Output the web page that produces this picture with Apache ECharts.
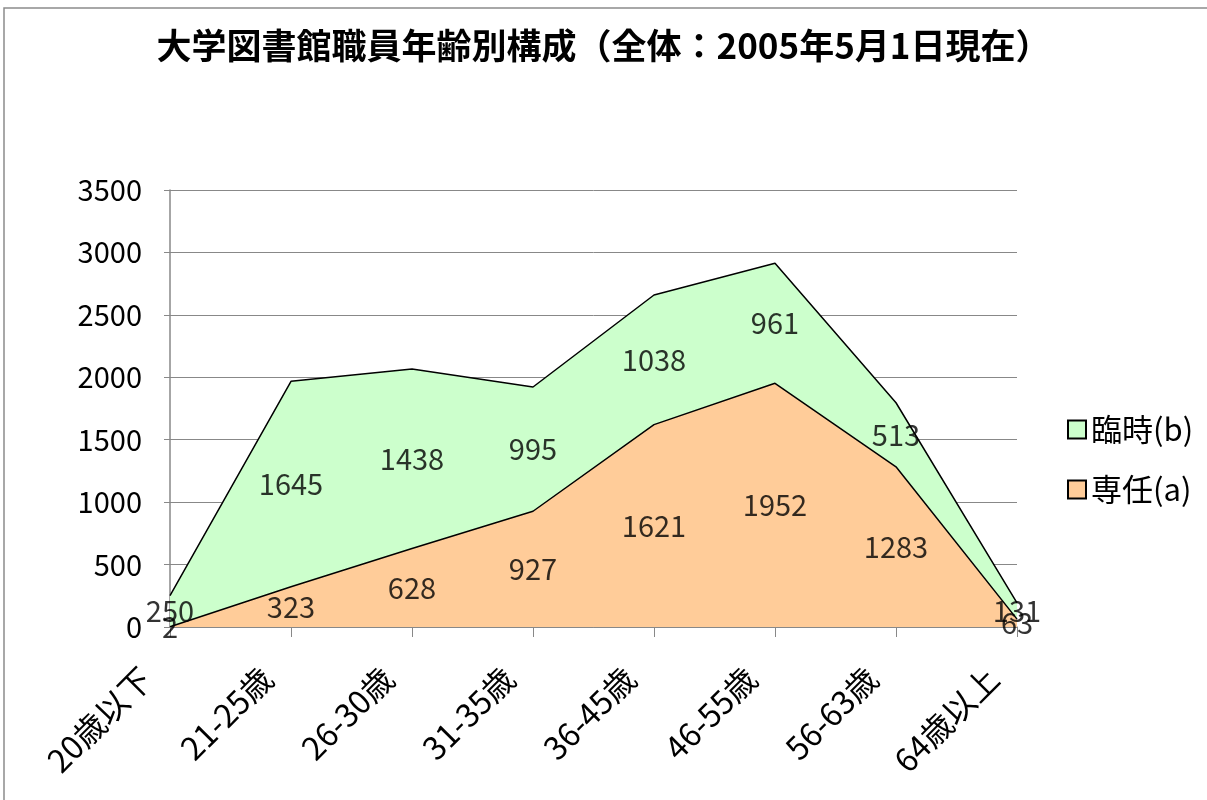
<!DOCTYPE html>
<html>
<head>
<meta charset="utf-8">
<script src="https://cdn.jsdelivr.net/npm/echarts@6/dist/echarts.min.js"></script>
<style>
  html, body { margin: 0; padding: 0; background: #fff; }
  #chart { width: 1207px; height: 800px; }
</style>
</head>
<body>
<div id="chart"></div>
<script>
// 年齢区分
const categories = ['20歳以下', '21-25歳', '26-30歳', '31-35歳', '36-45歳', '46-55歳', '56-63歳', '64歳以上'];
// 専任(a)
const fullTime = [2, 323, 628, 927, 1621, 1952, 1283, 63];
// 臨時(b)
const temporary = [250, 1645, 1438, 995, 1038, 961, 513, 131];
const yTicks = [0, 500, 1000, 1500, 2000, 2500, 3000, 3500];

const FONT = '"Noto Sans CJK JP", "Noto Sans", sans-serif';
const chart = echarts.init(document.getElementById('chart'));

// labels sit in the middle of each band
const midA = fullTime.map((v, i) => ({ value: [i, v / 2], label: { formatter: String(v) } }));
const midB = temporary.map((v, i) => ({ value: [i, fullTime[i] + v / 2], label: { formatter: String(v) } }));

const labelStyle = { show: true, position: 'inside', color: '#000', fontSize: 29, fontFamily: FONT };

const option = {
  animation: false,
  backgroundColor: '#fff',
  graphic: [{
    type: 'rect', shape: { x: 4, y: 8, width: 1300, height: 900 },
    style: { fill: 'none', stroke: '#8c8c8c', lineWidth: 1.5 }, silent: true
  }],
  title: {
    text: '大学図書館職員年齢別構成（全体：2005年5月1日現在）',
    left: 'center', top: 23,
    textStyle: { fontSize: 35, fontWeight: 'bold', color: '#000', fontFamily: FONT }
  },
  legend: {
    data: ['臨時(b)', '専任(a)'],
    orient: 'vertical',
    left: 1062, top: 409,
    itemGap: 29,
    itemWidth: 18, itemHeight: 18,
    icon: 'rect',
    textStyle: { fontSize: 31, color: '#000', fontFamily: FONT }
  },
  grid: { left: 170, right: 190, top: 190, bottom: 173 },
  xAxis: {
    type: 'category',
    data: categories,
    boundaryGap: false,
    axisLine: { lineStyle: { color: '#888', width: 1.5 } },
    axisTick: { show: true, length: 10, lineStyle: { color: '#888' } },
    axisLabel: {
      rotate: 45, margin: 22, fontSize: 32, color: '#000', fontFamily: FONT,
      interval: 0, padding: [0, 34, 0, 0]
    },
    splitLine: { show: false }
  },
  yAxis: {
    type: 'value',
    min: yTicks[0], max: yTicks[yTicks.length - 1], interval: 500,
    axisLine: { show: true, lineStyle: { color: '#888', width: 1.5 } },
    axisTick: { show: true, length: 6, lineStyle: { color: '#888' } },
    axisLabel: { margin: 28, fontSize: 29, color: '#000', fontFamily: FONT, formatter: v => String(v) },
    splitLine: { show: true, lineStyle: { color: '#888', width: 1 } }
  },
  series: [
    {
      name: '専任(a)', type: 'line', stack: 'total', data: fullTime,
      symbol: 'none',
      lineStyle: { color: '#000', width: 1.5 },
      areaStyle: { color: '#FFCC99', opacity: 1 },
      itemStyle: { color: '#FFCC99', borderColor: '#000', borderWidth: 1 },
      z: 2
    },
    {
      name: '臨時(b)', type: 'line', stack: 'total', data: temporary,
      symbol: 'none',
      lineStyle: { color: '#000', width: 1.5 },
      areaStyle: { color: '#CCFFCC', opacity: 1 },
      itemStyle: { color: '#CCFFCC', borderColor: '#000', borderWidth: 1 },
      z: 2
    },
    {
      type: 'scatter', data: midA, symbolSize: 0, silent: true,
      label: labelStyle, z: 5
    },
    {
      type: 'scatter', data: midB, symbolSize: 0, silent: true,
      label: labelStyle, z: 5
    }
  ]
};
chart.setOption(option);
</script>
</body>
</html>
